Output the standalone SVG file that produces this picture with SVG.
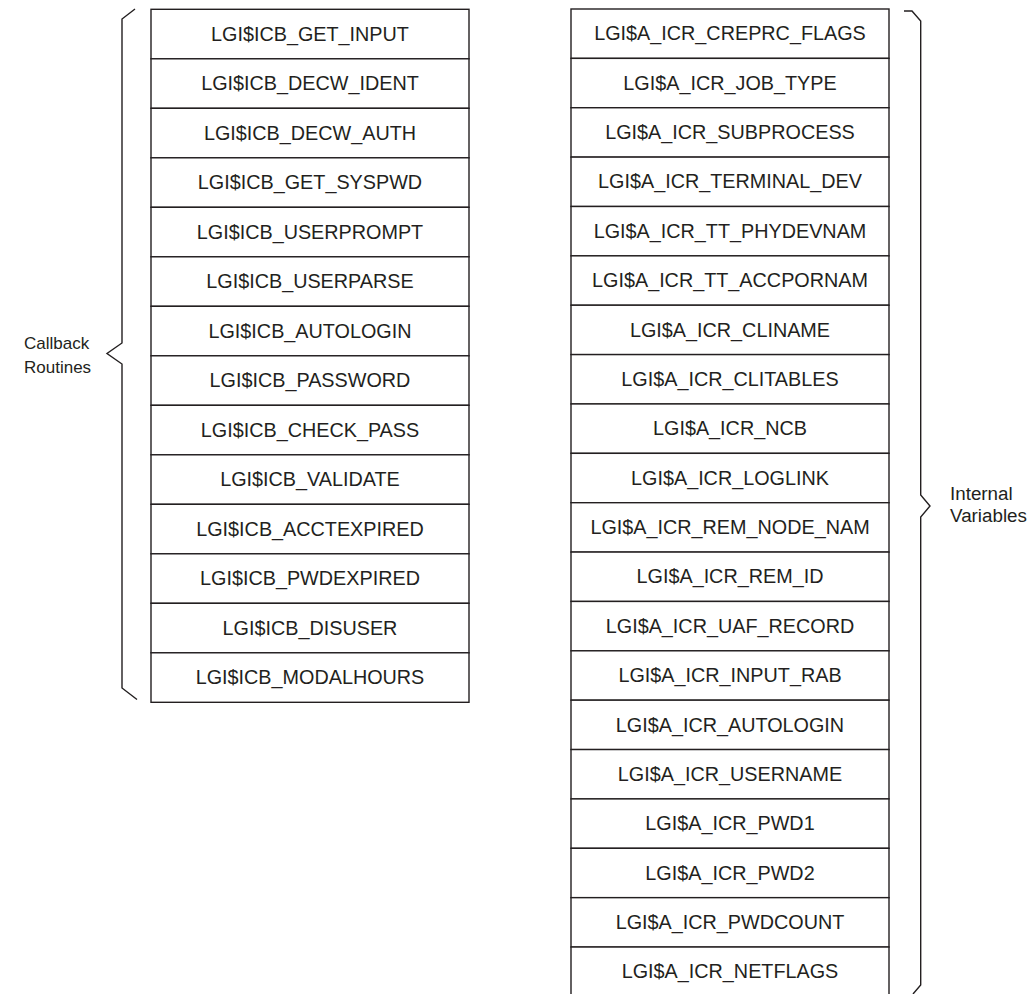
<svg xmlns="http://www.w3.org/2000/svg" width="1036" height="994" viewBox="0 0 1036 994">
<style>
.cell{fill:#fff;stroke:#231f20;stroke-width:1.4}
.t{font-family:"Liberation Sans",Arial,sans-serif;font-size:19.8px;fill:#231f20;text-anchor:middle}
.lbl{font-family:"Liberation Sans",Arial,sans-serif;font-size:17px;fill:#231f20}
.lblr{font-family:"Liberation Sans",Arial,sans-serif;font-size:18.8px;fill:#231f20}
.brace{fill:none;stroke:#231f20;stroke-width:1.4;stroke-linejoin:miter}
</style>
<rect width="1036" height="994" fill="#fff"/>
<g id="callbacks">
<g id="cb1"><rect class="cell" x="151" y="9.3" width="318" height="49.5"/><text class="t" x="310" y="40.6">LGI$ICB_GET_INPUT</text></g>
<g id="cb2"><rect class="cell" x="151" y="58.8" width="318" height="49.5"/><text class="t" x="310" y="90.1">LGI$ICB_DECW_IDENT</text></g>
<g id="cb3"><rect class="cell" x="151" y="108.3" width="318" height="49.5"/><text class="t" x="310" y="139.6">LGI$ICB_DECW_AUTH</text></g>
<g id="cb4"><rect class="cell" x="151" y="157.8" width="318" height="49.5"/><text class="t" x="310" y="189.1">LGI$ICB_GET_SYSPWD</text></g>
<g id="cb5"><rect class="cell" x="151" y="207.3" width="318" height="49.5"/><text class="t" x="310" y="238.6">LGI$ICB_USERPROMPT</text></g>
<g id="cb6"><rect class="cell" x="151" y="256.8" width="318" height="49.5"/><text class="t" x="310" y="288.1">LGI$ICB_USERPARSE</text></g>
<g id="cb7"><rect class="cell" x="151" y="306.3" width="318" height="49.5"/><text class="t" x="310" y="337.6">LGI$ICB_AUTOLOGIN</text></g>
<g id="cb8"><rect class="cell" x="151" y="355.8" width="318" height="49.5"/><text class="t" x="310" y="387.1">LGI$ICB_PASSWORD</text></g>
<g id="cb9"><rect class="cell" x="151" y="405.3" width="318" height="49.5"/><text class="t" x="310" y="436.6">LGI$ICB_CHECK_PASS</text></g>
<g id="cb10"><rect class="cell" x="151" y="454.8" width="318" height="49.5"/><text class="t" x="310" y="486.1">LGI$ICB_VALIDATE</text></g>
<g id="cb11"><rect class="cell" x="151" y="504.3" width="318" height="49.5"/><text class="t" x="310" y="535.6">LGI$ICB_ACCTEXPIRED</text></g>
<g id="cb12"><rect class="cell" x="151" y="553.8" width="318" height="49.5"/><text class="t" x="310" y="585.1">LGI$ICB_PWDEXPIRED</text></g>
<g id="cb13"><rect class="cell" x="151" y="603.3" width="318" height="49.5"/><text class="t" x="310" y="634.6">LGI$ICB_DISUSER</text></g>
<g id="cb14"><rect class="cell" x="151" y="652.8" width="318" height="49.5"/><text class="t" x="310" y="684.1">LGI$ICB_MODALHOURS</text></g>
</g>
<g id="variables">
<g id="v1"><rect class="cell" x="571" y="9" width="318" height="49.37"/><text class="t" x="730" y="40.3">LGI$A_ICR_CREPRC_FLAGS</text></g>
<g id="v2"><rect class="cell" x="571" y="58.37" width="318" height="49.37"/><text class="t" x="730" y="89.7">LGI$A_ICR_JOB_TYPE</text></g>
<g id="v3"><rect class="cell" x="571" y="107.74" width="318" height="49.37"/><text class="t" x="730" y="139.0">LGI$A_ICR_SUBPROCESS</text></g>
<g id="v4"><rect class="cell" x="571" y="157.11" width="318" height="49.37"/><text class="t" x="730" y="188.4">LGI$A_ICR_TERMINAL_DEV</text></g>
<g id="v5"><rect class="cell" x="571" y="206.48" width="318" height="49.37"/><text class="t" x="730" y="237.8">LGI$A_ICR_TT_PHYDEVNAM</text></g>
<g id="v6"><rect class="cell" x="571" y="255.85" width="318" height="49.37"/><text class="t" x="730" y="287.2">LGI$A_ICR_TT_ACCPORNAM</text></g>
<g id="v7"><rect class="cell" x="571" y="305.22" width="318" height="49.37"/><text class="t" x="730" y="336.5">LGI$A_ICR_CLINAME</text></g>
<g id="v8"><rect class="cell" x="571" y="354.59" width="318" height="49.37"/><text class="t" x="730" y="385.9">LGI$A_ICR_CLITABLES</text></g>
<g id="v9"><rect class="cell" x="571" y="403.96" width="318" height="49.37"/><text class="t" x="730" y="435.3">LGI$A_ICR_NCB</text></g>
<g id="v10"><rect class="cell" x="571" y="453.33" width="318" height="49.37"/><text class="t" x="730" y="484.6">LGI$A_ICR_LOGLINK</text></g>
<g id="v11"><rect class="cell" x="571" y="502.7" width="318" height="49.37"/><text class="t" x="730" y="534.0">LGI$A_ICR_REM_NODE_NAM</text></g>
<g id="v12"><rect class="cell" x="571" y="552.07" width="318" height="49.37"/><text class="t" x="730" y="583.4">LGI$A_ICR_REM_ID</text></g>
<g id="v13"><rect class="cell" x="571" y="601.44" width="318" height="49.37"/><text class="t" x="730" y="632.7">LGI$A_ICR_UAF_RECORD</text></g>
<g id="v14"><rect class="cell" x="571" y="650.81" width="318" height="49.37"/><text class="t" x="730" y="682.1">LGI$A_ICR_INPUT_RAB</text></g>
<g id="v15"><rect class="cell" x="571" y="700.18" width="318" height="49.37"/><text class="t" x="730" y="731.5">LGI$A_ICR_AUTOLOGIN</text></g>
<g id="v16"><rect class="cell" x="571" y="749.55" width="318" height="49.37"/><text class="t" x="730" y="780.8">LGI$A_ICR_USERNAME</text></g>
<g id="v17"><rect class="cell" x="571" y="798.92" width="318" height="49.37"/><text class="t" x="730" y="830.2">LGI$A_ICR_PWD1</text></g>
<g id="v18"><rect class="cell" x="571" y="848.29" width="318" height="49.37"/><text class="t" x="730" y="879.6">LGI$A_ICR_PWD2</text></g>
<g id="v19"><rect class="cell" x="571" y="897.66" width="318" height="49.37"/><text class="t" x="730" y="928.9">LGI$A_ICR_PWDCOUNT</text></g>
<g id="v20"><rect class="cell" x="571" y="947.03" width="318" height="49.37"/><text class="t" x="730" y="978.3">LGI$A_ICR_NETFLAGS</text></g>
</g>
<g id="connectors">
<path class="brace" d="M135,9 L122,19 L122,343 L107,353.5 L122,364 L122,688 L137,699.5"/>
<path class="brace" d="M904,11 L912,11 L920.7,21 L920.7,495 L930,506 L920.7,517 L920.7,985 L913,994"/>
</g>
<g id="labels">
<text class="lbl" x="24" y="349.3">Callback</text>
<text class="lbl" x="24" y="373.3">Routines</text>
<text class="lblr" x="950" y="500">Internal</text>
<text class="lblr" x="950" y="521.7">Variables</text>
</g>
</svg>
